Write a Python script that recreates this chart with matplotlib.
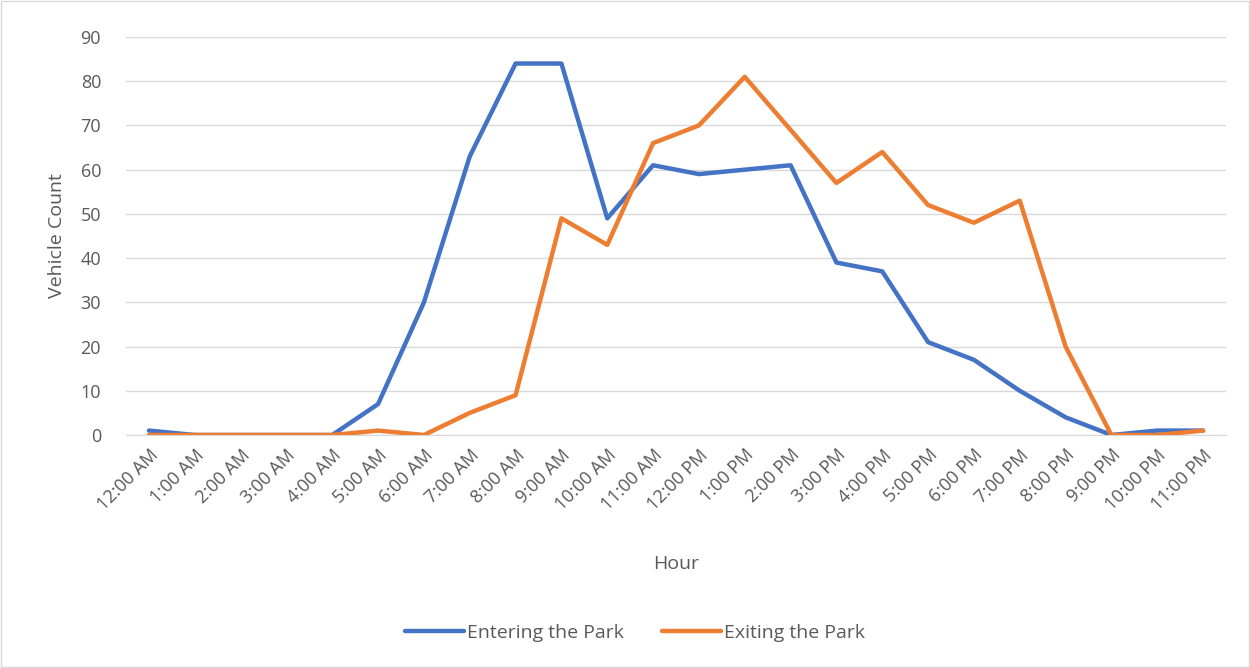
import matplotlib
matplotlib.use('Agg')
import matplotlib.pyplot as plt
from matplotlib.patches import Rectangle

plt.rcParams['font.family'] = ['Open Sans', 'DejaVu Sans']

hours = ['12:00 AM', '1:00 AM', '2:00 AM', '3:00 AM', '4:00 AM', '5:00 AM',
         '6:00 AM', '7:00 AM', '8:00 AM', '9:00 AM', '10:00 AM', '11:00 AM',
         '12:00 PM', '1:00 PM', '2:00 PM', '3:00 PM', '4:00 PM', '5:00 PM',
         '6:00 PM', '7:00 PM', '8:00 PM', '9:00 PM', '10:00 PM', '11:00 PM']
entering = [1, 0, 0, 0, 0, 7, 30, 63, 84, 84, 49, 61,
            59, 60, 61, 39, 37, 21, 17, 10, 4, 0, 1, 1]
exiting = [0, 0, 0, 0, 0, 1, 0, 5, 9, 49, 43, 66,
           70, 81, 69, 57, 64, 52, 48, 53, 20, 0, 0, 1]

text_color = '#595959'
grid_color = '#d9d9d9'

fig = plt.figure(figsize=(12.5, 6.68), dpi=100)
ax = fig.add_axes([0.1008, 0.3488, 0.88, 0.5958])

x = range(len(hours))
ax.plot(x, entering, color='#4472c4', linewidth=3.2, label='Entering the Park',
        solid_capstyle='round', solid_joinstyle='round', zorder=3)
ax.plot(x, exiting, color='#ed7d31', linewidth=3.2, label='Exiting the Park',
        solid_capstyle='round', solid_joinstyle='round', zorder=4)

ax.set_xlim(-0.5, len(hours) - 0.5)
ax.set_ylim(0, 90)
ax.set_yticks(range(0, 91, 10))
ax.set_xticks(list(x))
ax.set_xticklabels(hours, rotation=45, ha='right', rotation_mode='anchor')
ax.tick_params(axis='both', length=0, labelsize=13, labelcolor=text_color)
ax.tick_params(axis='y', pad=18)
ax.tick_params(axis='x', pad=8)
ax.grid(axis='y', color=grid_color, linewidth=1)
ax.set_axisbelow(True)
for s in ['top', 'right', 'left']:
    ax.spines[s].set_visible(False)
ax.spines['bottom'].set_color(grid_color)

ax.set_ylabel('Vehicle Count', fontsize=14, color=text_color, labelpad=10)
fig.text(0.541, 0.156, 'Hour', fontsize=14, color=text_color, ha='center', va='center')

leg = fig.legend(loc='center', bbox_to_anchor=(0.508, 0.052), ncol=2, frameon=False,
                 fontsize=14, handlelength=3.0, handletextpad=0.15, columnspacing=2.0)
for t in leg.get_texts():
    t.set_color(text_color)

fig.patches.append(Rectangle((0.001, 0.001), 0.998, 0.997, transform=fig.transFigure,
                             fill=False, edgecolor='#d9d9d9', linewidth=1))

fig.savefig('out.png', dpi=100)
